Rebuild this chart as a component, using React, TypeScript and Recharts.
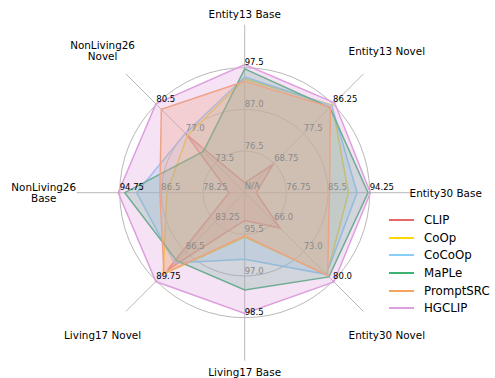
import {
  RadarChart,
  Radar,
  PolarGrid,
  PolarAngleAxis,
  PolarRadiusAxis,
  Legend,
} from "recharts";

const axes = [
  "Entity13 Base",
  "Entity13 Novel",
  "Entity30 Base",
  "Entity30 Novel",
  "Living17 Base",
  "Living17 Novel",
  "NonLiving26\nBase",
  "NonLiving26\nNovel",
];

// tick labels on each spoke (1/3, 2/3, full radius)
const e13BaseTicks = ["76.5", "87.0", "97.5"];
const e13NovelTicks = ["68.75", "77.5", "86.25"];
const e30BaseTicks = ["76.75", "85.5", "94.25"];
const e30NovelTicks = ["66.0", "73.0", "80.0"];
const l17BaseTicks = ["95.5", "97.0", "98.5"];
const l17NovelTicks = ["83.25", "86.5", "89.75"];
const nl26BaseTicks = ["78.25", "86.5", "94.75"];
const nl26NovelTicks = ["73.5", "77.0", "80.5"];

const axisTicks = [
  e13BaseTicks,
  e13NovelTicks,
  e30BaseTicks,
  e30NovelTicks,
  l17BaseTicks,
  l17NovelTicks,
  nl26BaseTicks,
  nl26NovelTicks,
];

const clip = [68.5, 68.5, 70.4, 67.4, 95.0, 88.5, 73.1, 77.0];
const coop = [94.65, 86.0, 89.8, 78.5, 95.6, 89.0, 85.4, 76.8];
const cocoop = [95.15, 85.85, 91.6, 78.4, 96.4, 87.75, 91.4, 77.05];
const maple = [97.2, 85.3, 93.9, 79.0, 97.5, 87.5, 93.75, 74.9];
const promptsrc = [94.05, 85.45, 85.8, 78.7, 95.55, 88.9, 86.8, 79.9];
const hgclip = [98.3, 86.7, 94.4, 80.2, 98.35, 89.8, 95.05, 80.55];

const series = [
  { name: "CLIP", values: clip, color: "#e8696b" },
  { name: "CoOp", values: coop, color: "#ffd700" },
  { name: "CoCoOp", values: cocoop, color: "#87cefa" },
  { name: "MaPLe", values: maple, color: "#3cb371" },
  { name: "PromptSRC", values: promptsrc, color: "#f4a460" },
  { name: "HGCLIP", values: hgclip, color: "#dda0dd" },
];

const fillAlpha: Record<string, number> = {
  CLIP: 0.25,
  CoOp: 0.2,
  CoCoOp: 0.25,
  MaPLe: 0.25,
  PromptSRC: 0.3,
  HGCLIP: 0.3,
};

// each spoke has its own scale: value -> fraction of radius
function norm(v: number, i: number) {
  const t = axisTicks[i].map(parseFloat);
  const base = t[0] - (t[1] - t[0]);
  return (v - base) / (t[2] - base);
}

const data = axes.map((axis, i) => {
  const row: any = { axis };
  series.forEach((s) => {
    row[s.name] = norm(s.values[i], i);
  });
  return row;
});

const W = 495;
const H = 378;
const CX = 244.7;
const CY = 192.7;
const R = 125;
const FONT = "DejaVu Sans, sans-serif";

function polar(r: number, deg: number) {
  const a = (-deg * Math.PI) / 180;
  return { x: CX + r * Math.cos(a), y: CY + r * Math.sin(a) };
}

function AngleTick(props: any) {
  const { payload, index } = props;
  const deg = payload.coordinate;
  const vertical = Math.abs(Math.sin((deg * Math.PI) / 180)) > 0.99;
  const c = polar(vertical ? 179 : 201, deg);
  const lines = String(payload.value).split("\n");
  const lh = 11.5;
  const ticks = axisTicks[index] || [];
  return (
    <g>
      {lines.map((ln, k) => (
        <text
          key={k}
          x={c.x}
          y={c.y - ((lines.length - 1) * lh) / 2 + k * lh}
          textAnchor="middle"
          dominantBaseline="central"
          fontSize={10.4}
          fontFamily={FONT}
          fill="#000"
        >
          {ln}
        </text>
      ))}
      {index === 0 && (
        <text
          x={CX}
          y={CY - 4}
          fontSize={8.5}
          fontFamily={FONT}
          fill="#8a8a8a"
        >
          N/A
        </text>
      )}
      {ticks.map((lbl: string, k: number) => {
        const p = polar((R * (k + 1)) / 3, deg);
        return (
          <text
            key={"t" + k}
            x={p.x}
            y={p.y - 2.5}
            textAnchor="start"
            fontSize={8.5}
            fontFamily={FONT}
            fill={k === 2 ? "#000" : "#8a8a8a"}
          >
            {lbl}
          </text>
        );
      })}
    </g>
  );
}

function LegendBox() {
  return (
    <div style={{ fontFamily: FONT }}>
      {series.map((s) => (
        <div
          key={s.name}
          style={{ display: "flex", alignItems: "center", height: 17.7 }}
        >
          <svg width={25} height={4}>
            <line x1={0} y1={2} x2={25} y2={2} stroke={s.color} strokeWidth={2} />
          </svg>
          <span style={{ marginLeft: 10, fontSize: 11.8, color: "#000" }}>
            {s.name}
          </span>
        </div>
      ))}
    </div>
  );
}

export default function App() {
  return (
    <div style={{ position: "absolute", left: 0, top: 0, width: W, height: H, background: "#fff" }}>
      <RadarChart
        width={W}
        height={H}
        data={data}
        cx={CX}
        cy={CY}
        outerRadius={R}
        margin={{ top: 0, right: 0, bottom: 0, left: 0 }}
      >
        <PolarGrid
          gridType="circle"
          polarRadius={[R / 3, (2 * R) / 3, R]}
          stroke="#b0b0b0"
          strokeWidth={0.9}
        />
        <PolarAngleAxis
          dataKey="axis"
          tick={AngleTick}
          tickSize={43}
          tickLine={{ stroke: "#b0b0b0", strokeWidth: 0.9 }}
          axisLine={false}
        />
        <PolarRadiusAxis
          type="number"
          domain={[0, 1]}
          allowDataOverflow
          tick={false}
          axisLine={false}
        />
        {series.map((s) => (
          <Radar
            key={s.name}
            name={s.name}
            dataKey={s.name}
            stroke={s.color}
            strokeWidth={1.5}
            fill={s.color}
            fillOpacity={fillAlpha[s.name]}
            dot={false}
            isAnimationActive={false}
          />
        ))}
        <Legend
          content={LegendBox}
          wrapperStyle={{ position: "absolute", left: 389, top: 211, width: "auto" }}
        />
      </RadarChart>
    </div>
  );
}
